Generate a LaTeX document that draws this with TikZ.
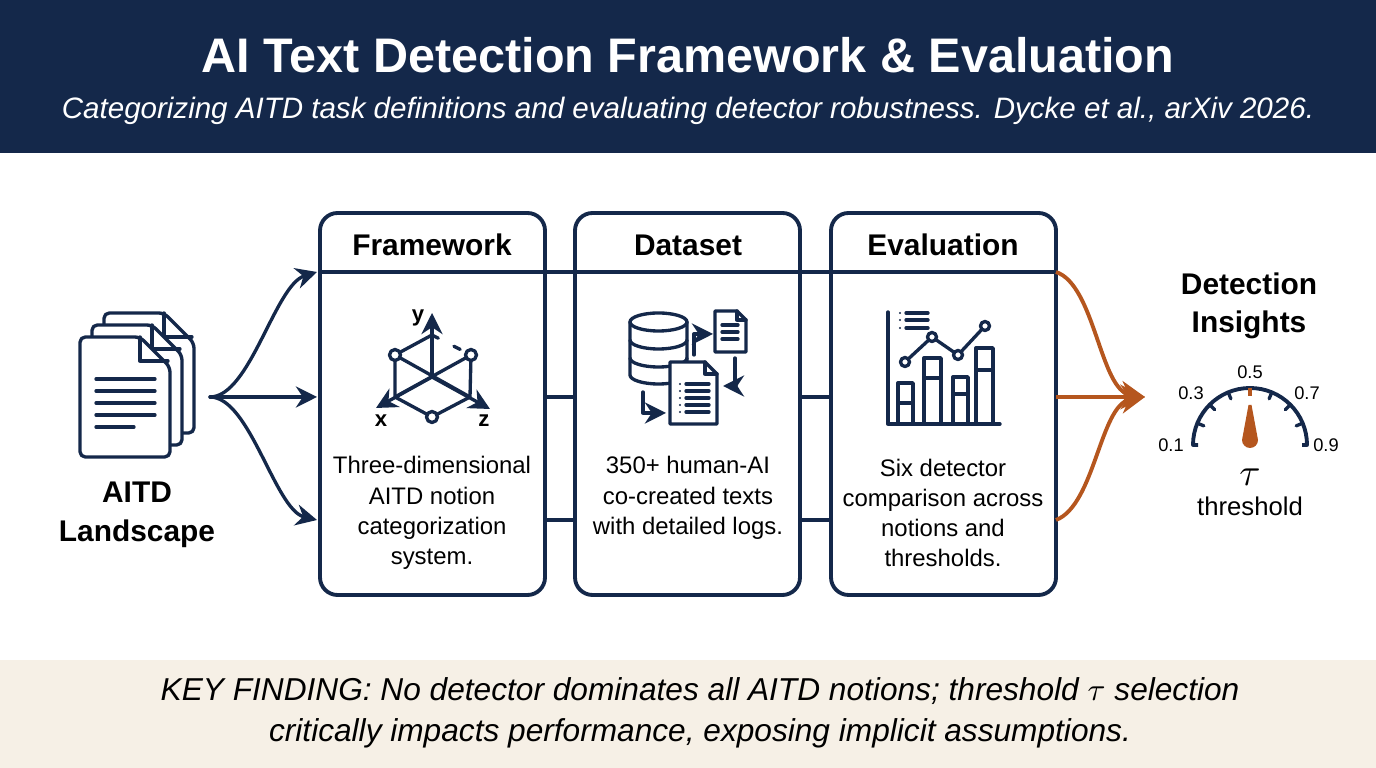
\documentclass[tikz,border=0pt]{standalone}
\usepackage{fontspec}
\setmainfont{Liberation Sans}
\usetikzlibrary{arrows.meta,calc}
\definecolor{navy}{HTML}{14284A}
\definecolor{rust}{HTML}{B5561E}
\definecolor{beige}{HTML}{F6F0E6}
\begin{document}
\begin{tikzpicture}[x=0.01cm,y=-0.01cm,
  ln/.style={navy,line width=0.95pt,line cap=round,line join=round},
  box/.style={draw=navy,line width=1.1pt,rounded corners=5pt},
  arr/.style={ln,-{Stealth[length=6pt,width=6pt]}},
  oarr/.style={rust,line width=1.1pt,-{Stealth[length=7pt,width=7pt]}},
  bt/.style={font=\fontsize{8.5}{10}\selectfont\bfseries,text=black},
  body/.style={font=\fontsize{6.8}{8.6}\selectfont,align=center},
  gl/.style={font=\fontsize{5.2}{6}\selectfont}]
\useasboundingbox (0,0) rectangle (1376,768);
\fill[navy] (0,0) rectangle (1376,153);
\fill[beige] (0,660) rectangle (1376,768);
\node (title) at (688,55) {\fontsize{13.8}{15}\selectfont\bfseries\color{white}AI Text Detection Framework \& Evaluation};
\node (sub) at (688,111) {\fontsize{8.4}{9}\selectfont\itshape\color{white}Categorizing AITD task definitions and evaluating detector robustness. Dycke et al., arXiv 2026.};
\node (key) at (700,713) [align=center,font=\fontsize{9}{11.5}\selectfont\itshape] {KEY FINDING: No detector dominates all AITD notions; threshold $\tau$ selection\\critically impacts performance, exposing implicit assumptions.};
% connecting lines
\draw[ln] (320,272) -- (1056,272);
\draw[ln] (545,397) -- (575,397) (800,397) -- (831,397);
\draw[ln] (545,520) -- (575,520) (800,520) -- (831,520);
% boxes
\draw[box] (320,213) rectangle (545,595);
\draw[box] (575,213) rectangle (800,595);
\draw[box] (831,213) rectangle (1056,595);
\node[bt] (fw) at (432,245) {Framework};
\node[bt] (ds) at (688,245) {Dataset};
\node[bt] (ev) at (943,245) {Evaluation};
\node[body] (fwb) at (432,513) {Three-dimensional\\AITD notion\\categorization\\system.};
\node[body] (dsb) at (688,498) {350+ human-AI\\co-created texts\\with detailed logs.};
\node[body] (evb) at (943,513) {Six detector\\comparison across\\notions and\\thresholds.};
% left docs
\coordinate (src) at (210,397);
\node[font=\fontsize{8.5}{11}\selectfont\bfseries,align=center] (land) at (137,515) {AITD\\Landscape};
\foreach \d in {24,12,0}{
 \fill[white] (80+\d,337-\d) -- (140+\d,337-\d) -- (170+\d,367-\d) -- (170+\d,457-\d) -- (80+\d,457-\d) -- cycle;
 \draw[ln,rounded corners=1.5pt] (80+\d,337-\d) -- (140+\d,337-\d) -- (170+\d,367-\d) -- (170+\d,457-\d) -- (80+\d,457-\d) -- cycle;
 \draw[ln] (140+\d,337-\d) -- (140+\d,361-\d) -- (168+\d,361-\d);}
\foreach \yy in {379,391,403,415} \draw[ln] (96,\yy) -- (155,\yy);
\draw[ln] (96,427) -- (134,427);
\draw[arr] (src) .. controls (250,397) and (275,285) .. (317,272);
\draw[arr] (src) -- (317,397);
\draw[arr] (src) .. controls (250,397) and (275,510) .. (317,520);
% framework icon
\coordinate (c) at (432,377);
\draw[arr] (c) -- (432,313);
\draw[arr] (c) -- (376,408);
\draw[arr] (c) -- (490,409);
\draw[ln] (395,355) -- (470,397) (471,355) -- (395,397);
\draw[ln] (432,335) -- (395,355) -- (395,397) -- (432,417) -- (470,397) -- (471,355);
\draw[ln,dash pattern=on 2pt off 5pt] (432,335) -- (471,355);
\foreach \p in {(395,355),(471,355),(432,417)} \draw[ln,fill=white] \p circle (5.5);
\node[font=\fontsize{6.3}{7}\selectfont\bfseries] at (418,318) {y};
\node[font=\fontsize{6.3}{7}\selectfont\bfseries] at (381,421) {x};
\node[font=\fontsize{6.3}{7}\selectfont\bfseries] at (484,421) {z};
% dataset icon
\draw[ln] (630,322) -- (630,375) arc[start angle=180,end angle=0,x radius=28.5,y radius=9] -- (687,322);
\draw[ln] (658.5,322) ellipse[x radius=28.5,y radius=9];
\draw[ln] (630,340) arc[start angle=180,end angle=0,x radius=28.5,y radius=9];
\draw[ln] (630,358) arc[start angle=180,end angle=0,x radius=28.5,y radius=9];
\draw[ln,fill=white] (715,311) -- (737,311) -- (746,320) -- (746,352) -- (715,352) -- cycle;
\draw[ln] (737,311) -- (737,320) -- (746,320);
\foreach \yy in {325,332,339} \draw[ln] (722,\yy) -- (738,\yy);
\draw[ln,fill=white] (670,362) -- (705,362) -- (717,374) -- (717,424) -- (670,424) -- cycle;
\draw[ln] (705,362) -- (705,374) -- (717,374);
\foreach \yy in {384,391,398,405,412} {\fill[navy] (680,\yy) circle (1.2); \draw[ln] (686,\yy) -- (709,\yy);}
\draw[arr] (694,355) -- (694,334) -- (713,334);
\draw[arr] (735,358) -- (735,386) -- (723,386);
\draw[arr] (643,392) -- (643,413) -- (666,413);
% evaluation icon
\draw[ln] (888,312) -- (888,424) -- (1000,424);
\foreach \yy in {313,320,328} {\fill[navy] (900,\yy) circle (1.2); \draw[ln] (906,\yy) -- (928,\yy);}
\draw[ln] (898,424) -- (898,383) -- (913,383) -- (913,424) (898,403) -- (913,403);
\draw[ln] (924,424) -- (924,358) -- (941,358) -- (941,424) (924,378) -- (941,378);
\draw[ln] (953,424) -- (953,377) -- (968,377) -- (968,424) (953,394) -- (968,394);
\draw[ln] (976,424) -- (976,348) -- (993,348) -- (993,424) (976,370) -- (993,370);
\draw[ln] (905,362) -- (932,337) -- (958,355) -- (985,326);
\foreach \p in {(905,362),(932,337),(958,355),(985,326)} \draw[ln,fill=white] \p circle (4.5);
% output arrows
\coordinate (tgt) at (1145,397);
\draw[oarr] (1056,272) .. controls (1095,285) and (1100,390) .. (tgt);
\draw[oarr] (1056,397) -- (tgt);
\draw[oarr] (1056,520) .. controls (1095,505) and (1100,405) .. (tgt);
% gauge
\node[font=\fontsize{8.5}{11}\selectfont\bfseries,align=center] (di) at (1249,306) {Detection\\Insights};
\coordinate (g) at (1250,445);
\draw[ln,line width=1.1pt,line cap=butt] (1198,445) -- (1193,445) arc[start angle=180,end angle=360,radius=57] -- (1302,445);
\foreach \a in {-157.5,-135,-112.5,-67.5,-45,-22.5} \draw[ln] ($(g)+(\a:57)$) -- ($(g)+(\a:50)$);
\draw[rust,line width=1.1pt] (1250,388) -- (1250,396);
\fill[rust] (1248.5,405) -- (1251.5,405) -- (1258,440) arc[start angle=0,end angle=180,radius=8] -- cycle;
\node[gl] at (1171,445) {0.1};
\node[gl] at (1191,393) {0.3};
\node[gl] at (1250,372) {0.5};
\node[gl] at (1307,393) {0.7};
\node[gl] at (1326,445) {0.9};
\node[font=\fontsize{11}{12}\selectfont] at (1250,477) {$\tau$};
\node[font=\fontsize{7.3}{9}\selectfont] (thr) at (1250,506) {threshold};
\end{tikzpicture}
\end{document}
